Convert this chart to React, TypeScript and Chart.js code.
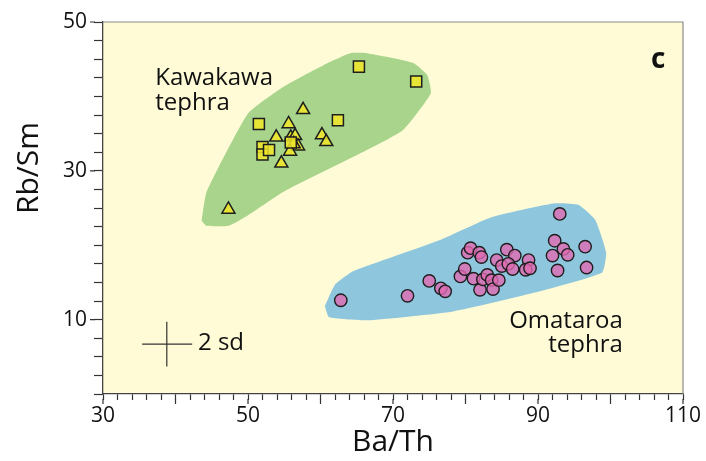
import React, { useEffect, useRef } from "react";
import { Chart, registerables } from "chart.js";

Chart.register(...registerables);

// ---- Data ----
const kawaSquareX = [65.3, 73.2, 51.5, 62.4, 52.0, 52.0, 52.9, 55.9];
const kawaSquareY = [44.0, 42.0, 36.3, 36.8, 33.2, 32.2, 32.8, 33.8];

const kawaTriX = [57.6, 55.6, 53.9, 55.9, 56.5, 56.9, 56.3, 55.8, 54.6, 60.2, 60.8, 47.3];
const kawaTriY = [38.2, 36.3, 34.5, 34.5, 34.7, 33.3, 33.6, 32.6, 31.0, 34.8, 33.9, 24.8];

const omaX = [62.8, 72.0, 75.0, 76.6, 77.2, 79.3, 79.9, 80.3, 80.7, 81.9, 82.2, 81.1, 82.0, 82.4, 83.0, 83.6, 83.8, 84.6, 84.3, 85.7, 86.8, 85.0, 85.9, 86.5, 88.7, 88.3, 88.9, 92.3, 93.0, 92.0, 93.5, 94.1, 92.7, 96.5, 96.7];
const omaY = [12.6, 13.2, 15.2, 14.2, 13.8, 15.8, 16.8, 19.0, 19.6, 19.0, 18.4, 15.5, 14.0, 15.4, 16.0, 15.3, 14.1, 15.3, 18.0, 19.4, 18.6, 17.2, 17.5, 16.8, 18.0, 16.7, 16.9, 20.6, 24.2, 18.6, 19.5, 18.7, 16.6, 19.8, 17.0];

const kawaHullX = [43.6, 44.3, 47.3, 49.8, 54.9, 66.4, 71.4, 75.2, 74.7, 72.8, 66.4, 64.1, 60.4, 54.9, 50.0, 44.3, 43.6];
const kawaHullY = [23.3, 22.6, 22.6, 23.9, 27.2, 32.8, 35.5, 40.4, 42.9, 44.5, 45.8, 45.8, 44.2, 41.3, 37.7, 27.2, 23.3];

const omaHullX = [60.6, 61.2, 66.4, 78.3, 89.4, 98.8, 99.4, 97.9, 95.6, 92.1, 83.4, 76.5, 64.5, 62.0, 60.6];
const omaHullY = [11.8, 10.3, 9.9, 11.1, 13.6, 16.3, 19.0, 23.4, 25.4, 25.6, 23.7, 20.7, 16.5, 14.7, 11.8];

// 2 sd error cross
const sdHorizX = [35.4, 42.3];
const sdHorizY = [6.7, 6.7];
const sdVertX = [38.8, 38.8];
const sdVertY = [9.7, 3.7];

const xTickLabels = [30, 50, 70, 90, 110];
const yTickLabels = [10, 30, 50];

const pts = (xs: number[], ys: number[]) => xs.map((x, i) => ({ x, y: ys[i] }));

const FONT = "'Open Sans', 'Noto Sans', sans-serif";

export default function App() {
  const ref = useRef<HTMLCanvasElement>(null);

  useEffect(() => {
    const canvas = ref.current!;

    const decor = {
      id: "decor",
      beforeDraw(chart: any) {
        const { ctx, chartArea: a } = chart;
        ctx.save();
        ctx.fillStyle = "#ffffff";
        ctx.fillRect(0, 0, chart.width, chart.height);
        ctx.fillStyle = "#fffbd6";
        ctx.fillRect(a.left, a.top, a.right - a.left, a.bottom - a.top);
        ctx.restore();
      },
      afterDraw(chart: any) {
        const { ctx, chartArea: a, scales } = chart;
        const xs = scales.x;
        const ys = scales.y;
        ctx.save();
        // top and right frame
        ctx.strokeStyle = "#8a8a8a";
        ctx.lineWidth = 1.2;
        ctx.beginPath();
        ctx.moveTo(a.left, a.top);
        ctx.lineTo(a.right, a.top);
        ctx.lineTo(a.right, a.bottom);
        ctx.stroke();
        // longer major ticks
        ctx.strokeStyle = "#333";
        ctx.lineWidth = 1.2;
        ctx.beginPath();
        for (let v = 30; v <= 110; v += 10) {
          const px = xs.getPixelForValue(v);
          ctx.moveTo(px, a.bottom + 5);
          ctx.lineTo(px, a.bottom + 10);
        }
        for (const v of yTickLabels) {
          const py = ys.getPixelForValue(v);
          ctx.moveTo(a.left - 8, py);
          ctx.lineTo(a.left - 13, py);
        }
        ctx.stroke();
        // annotations
        ctx.fillStyle = "#111";
        ctx.textBaseline = "alphabetic";
        ctx.font = `24px ${FONT}`;
        ctx.textAlign = "left";
        let px = xs.getPixelForValue(37.2);
        let py = ys.getPixelForValue(41.5);
        ctx.fillText("Kawakawa", px, py);
        ctx.fillText("tephra", px, py + 25);
        ctx.textAlign = "right";
        px = xs.getPixelForValue(101.7);
        py = ys.getPixelForValue(8.9);
        ctx.fillText("Omataroa", px, py);
        ctx.fillText("tephra", px, py + 24);
        ctx.textAlign = "left";
        ctx.textBaseline = "middle";
        ctx.fillText("2 sd", xs.getPixelForValue(43.1), ys.getPixelForValue(6.9));
        ctx.textBaseline = "alphabetic";
        ctx.font = `bold 28px ${FONT}`;
        ctx.fillText("c", xs.getPixelForValue(105.6), ys.getPixelForValue(43.8));
        // y-axis title
        ctx.font = `30px ${FONT}`;
        ctx.textAlign = "center";
        ctx.textBaseline = "middle";
        ctx.translate(29, 168);
        ctx.rotate(-Math.PI / 2);
        ctx.fillText("Rb/Sm", 0, 0);
        ctx.restore();
      },
    };

    const chart = new Chart(canvas, {
      type: "scatter",
      data: {
        datasets: [
          {
            data: pts(kawaHullX, kawaHullY),
            showLine: true,
            fill: "shape",
            backgroundColor: "#a8d48c",
            borderColor: "transparent",
            borderWidth: 0,
            pointRadius: 0,
            tension: 0.15,
            order: 10,
          },
          {
            data: pts(omaHullX, omaHullY),
            showLine: true,
            fill: "shape",
            backgroundColor: "#8ec6de",
            borderColor: "transparent",
            borderWidth: 0,
            pointRadius: 0,
            tension: 0.15,
            order: 10,
          },
          {
            data: pts(kawaTriX, kawaTriY),
            pointStyle: "triangle",
            pointRadius: 7.5,
            backgroundColor: "rgba(240,230,40,0.85)",
            borderColor: "#1e1e1e",
            borderWidth: 1.5,
            order: 3,
          },
          {
            data: pts(kawaSquareX, kawaSquareY),
            pointStyle: "rect",
            pointRadius: 7.8,
            backgroundColor: "rgba(240,230,40,0.85)",
            borderColor: "#1e1e1e",
            borderWidth: 1.5,
            order: 2,
          },
          {
            data: pts(omaX, omaY),
            pointStyle: "circle",
            pointRadius: 6.2,
            backgroundColor: "rgba(224,106,177,0.8)",
            borderColor: "#1e1e1e",
            borderWidth: 1.4,
            order: 1,
          },
          {
            data: pts(sdHorizX, sdHorizY),
            showLine: true,
            borderColor: "#333",
            borderWidth: 1.2,
            pointRadius: 0,
            order: 0,
          },
          {
            data: pts(sdVertX, sdVertY),
            showLine: true,
            borderColor: "#333",
            borderWidth: 1.2,
            pointRadius: 0,
            order: 0,
          },
        ],
      },
      options: {
        responsive: false,
        animation: false,
        events: [],
        layout: { padding: { top: 22, right: 23, left: 0, bottom: 0 } },
        plugins: { legend: { display: false }, tooltip: { enabled: false } },
        scales: {
          x: {
            type: "linear",
            min: 30,
            max: 110,
            afterFit: (s: any) => {
              s.height = 67;
            },
            border: { display: true, color: "#444", width: 1.3 },
            grid: { drawOnChartArea: false, drawTicks: true, tickLength: 6, tickColor: "#333", tickWidth: 1.2 },
            ticks: {
              stepSize: 2,
              autoSkip: false,
              maxRotation: 0,
              padding: 3,
              color: "#111",
              font: { family: FONT, size: 21 },
              callback: (v: any) => (xTickLabels.includes(Number(v)) ? String(v) : ""),
            },
            title: {
              display: true,
              text: "Ba/Th",
              color: "#111",
              font: { family: FONT, size: 30, lineHeight: 1.2 },
              padding: { top: 0, bottom: 1 },
            },
          },
          y: {
            type: "linear",
            min: 0,
            max: 50,
            afterFit: (s: any) => {
              s.width = 103;
            },
            border: { display: true, color: "#444", width: 1.3 },
            grid: { drawOnChartArea: false, drawTicks: true, tickLength: 9, tickColor: "#333", tickWidth: 1.2 },
            ticks: {
              stepSize: 2.5,
              autoSkip: false,
              padding: 7,
              color: "#111",
              font: { family: FONT, size: 21 },
              callback: (v: any) => (yTickLabels.includes(Number(v)) ? String(v) : ""),
            },
          },
        },
      },
      plugins: [decor],
    });

    return () => chart.destroy();
  }, []);

  return (
    <div style={{ position: "fixed", left: 0, top: 0, width: 706, height: 461 }}>
      <canvas ref={ref} width={706} height={461} style={{ display: "block" }} />
    </div>
  );
}
